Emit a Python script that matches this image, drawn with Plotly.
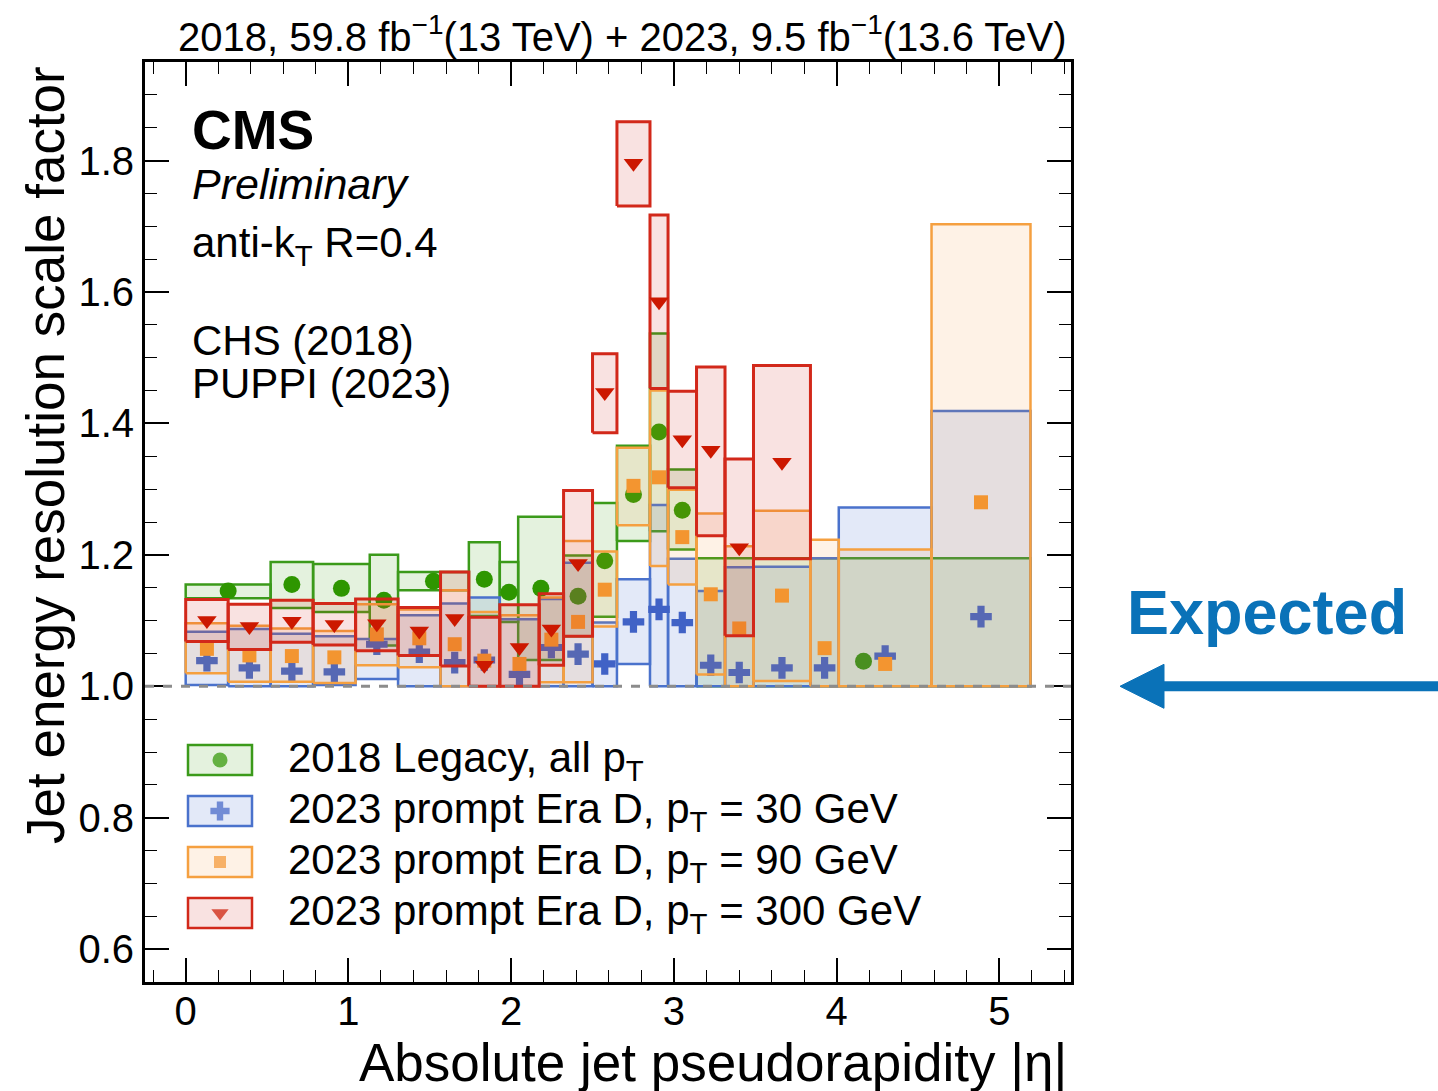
import plotly.graph_objects as go

# ---------------- data ----------------
# 2018 Legacy (CHS), all pT
chs18_edges = [0.0, 0.522, 0.783, 1.131, 1.305, 1.740, 1.930, 2.043, 2.322, 2.500,
               2.650, 2.853, 2.964, 3.139, 5.191]
chs18_sf = [1.145, 1.155, 1.149, 1.131, 1.160, 1.163, 1.143, 1.149, 1.137, 1.191,
            1.292, 1.387, 1.268, 1.038]
chs18_lo = [1.134, 1.119, 1.113, 1.062, 1.146, 1.107, 1.098, 1.040, 1.076, 1.106,
            1.221, 1.236, 1.208, 1.000]
chs18_hi = [1.155, 1.189, 1.186, 1.200, 1.174, 1.219, 1.189, 1.258, 1.199, 1.279,
            1.366, 1.537, 1.330, 1.195]

# 2023 prompt Era D (PUPPI) binning
puppi_edges = [0.0, 0.261, 0.522, 0.783, 1.044, 1.305, 1.566, 1.740, 1.930, 2.172,
               2.322, 2.500, 2.650, 2.853, 2.964, 3.139, 3.314, 3.489, 3.839, 4.013,
               4.583, 5.191]

# pT = 30 GeV
pt30_sf = [1.039, 1.028, 1.023, 1.022, 1.064, 1.052, 1.036, 1.040, 1.018, 1.059,
           1.049, 1.034, 1.098, 1.117, 1.097, 1.032, 1.021, 1.028, 1.028, 1.046, 1.106]
pt30_lo = [1.002, 1.000, 1.000, 1.002, 1.011, 1.000, 1.000, 1.000, 1.000, 1.000,
           1.000, 1.000, 1.034, 1.000, 1.000, 1.000, 1.000, 1.000, 1.000, 1.000, 1.000]
pt30_hi = [1.083, 1.087, 1.080, 1.076, 1.072, 1.108, 1.126, 1.135, 1.102, 1.133,
           1.188, 1.097, 1.163, 1.276, 1.194, 1.145, 1.181, 1.182, 1.195, 1.272, 1.419]

# pT = 90 GeV
pt90_sf = [1.057, 1.047, 1.046, 1.044, 1.079, 1.073, 1.064, 1.039, 1.034, 1.071,
           1.098, 1.147, 1.305, 1.318, 1.227, 1.140, 1.088, 1.138, 1.058, 1.034, 1.280]
pt90_lo = [1.020, 1.007, 1.007, 1.005, 1.032, 1.029, 1.000, 1.000, 1.000, 1.006,
           1.006, 1.091, 1.245, 1.183, 1.155, 1.018, 1.000, 1.008, 1.000, 1.000, 1.000]
pt90_hi = [1.096, 1.092, 1.088, 1.084, 1.125, 1.117, 1.146, 1.113, 1.108, 1.135,
           1.221, 1.205, 1.363, 1.450, 1.299, 1.263, 1.213, 1.267, 1.223, 1.208, 1.703]

# pT = 300 GeV (bins up to |eta| = 3.839)
pt300_sf = [1.100, 1.091, 1.099, 1.094, 1.095, 1.084, 1.103, 1.032, 1.059, 1.087,
            1.187, 1.447, 1.796, 1.585, 1.375, 1.359, 1.211, 1.341]
pt300_lo = [1.068, 1.056, 1.067, 1.063, 1.054, 1.047, 1.031, 1.000, 1.000, 1.032,
            1.076, 1.386, 1.731, 1.453, 1.302, 1.229, 1.077, 1.194]
pt300_hi = [1.132, 1.125, 1.131, 1.126, 1.133, 1.120, 1.174, 1.105, 1.124, 1.141,
            1.298, 1.506, 1.859, 1.717, 1.449, 1.486, 1.346, 1.488]

expected_sf = 1.0

legend_labels = [
    "2018 Legacy, all p<sub>T</sub>",
    "2023 prompt Era D, p<sub>T</sub> = 30 GeV",
    "2023 prompt Era D, p<sub>T</sub> = 90 GeV",
    "2023 prompt Era D, p<sub>T</sub> = 300 GeV",
]

# ---------------- styling ----------------
FONT = "Liberation Sans, Arial, Helvetica, sans-serif"
W, H = 1438, 1091
L, R, T, B = 145, 367, 62, 109
PW, PH = W - L - R, H - T - B
X_RANGE = [-0.25, 5.44]
Y_RANGE = [0.55, 1.95]

series = [
    dict(edges=chs18_edges, sf=chs18_sf, lo=chs18_lo, hi=chs18_hi,
         line="#3b9a1a", fill="rgba(43,154,0,0.13)", mcol="#2e9600",
         symbol="circle", size=17, lw=2.5),
    dict(edges=puppi_edges, sf=pt30_sf, lo=pt30_lo, hi=pt30_hi,
         line="#4a72cc", fill="rgba(70,110,210,0.15)", mcol="#4062c6",
         symbol="cross", size=18, lw=2.5),
    dict(edges=puppi_edges, sf=pt90_sf, lo=pt90_lo, hi=pt90_hi,
         line="#f5a040", fill="rgba(245,150,50,0.12)", mcol="#f39530",
         symbol="square", size=14, lw=2.5),
    dict(edges=puppi_edges, sf=pt300_sf, lo=pt300_lo, hi=pt300_hi,
         line="#d2281a", fill="rgba(210,30,20,0.13)", mcol="#cc1800",
         symbol="triangle-down", size=17, lw=3),
]


def px_x(p):
    return (p - L) / PW


def px_y(p):
    return (T + PH - p) / PH


def box_outline(edges, lo, hi):
    xs, ys = [], []
    for i in range(len(lo)):
        x0, x1 = edges[i], edges[i + 1]
        xs += [x0, x1, x1, x0, x0, None]
        ys += [lo[i], lo[i], hi[i], hi[i], lo[i], None]
    return xs, ys


fig = go.Figure()

for s in series:
    xs, ys = box_outline(s["edges"], s["lo"], s["hi"])
    fig.add_trace(go.Scatter(
        x=xs, y=ys, mode="lines", fill="toself", fillcolor=s["fill"],
        line=dict(color=s["line"], width=s["lw"]), hoverinfo="skip",
        showlegend=False,
    ))
    centers = [(s["edges"][i] + s["edges"][i + 1]) / 2 for i in range(len(s["sf"]))]
    fig.add_trace(go.Scatter(
        x=centers, y=s["sf"], mode="markers",
        marker=dict(symbol=s["symbol"], size=s["size"], color=s["mcol"], line=dict(width=0)),
        showlegend=False,
    ))

# legend: boxes as shapes, markers on an overlay axis spanning the plot area
shapes = []
leg_x0, leg_x1 = 188, 252
leg_rows = [760, 811, 862, 913]
for s, yc in zip(series, leg_rows):
    shapes.append(dict(type="rect", xref="paper", yref="paper",
                       x0=px_x(leg_x0), x1=px_x(leg_x1),
                       y0=px_y(yc + 15), y1=px_y(yc - 15),
                       fillcolor=s["fill"], line=dict(color=s["line"], width=2.5),
                       layer="below"))
fig.add_trace(go.Scatter(
    x=[px_x((leg_x0 + leg_x1) / 2)] * 4, y=[px_y(yc) for yc in leg_rows],
    mode="markers", xaxis="x2", yaxis="y2", cliponaxis=False,
    marker=dict(symbol=[s["symbol"] for s in series],
                size=[s["size"] - 2 for s in series],
                color=[s["mcol"] for s in series], line=dict(width=0)),
    showlegend=False, hoverinfo="skip",
))

# expected scale factor reference line
shapes.append(dict(type="line", xref="x", yref="y", x0=X_RANGE[0], x1=X_RANGE[1],
                   y0=expected_sf, y1=expected_sf, layer="above",
                   line=dict(color="#8c8c8c", width=3, dash="dash")))

# arrow pointing at the expected value
y_exp_paper = (expected_sf - Y_RANGE[0]) / (Y_RANGE[1] - Y_RANGE[0])
ARROW = "#0a72b8"
shapes.append(dict(type="line", xref="paper", yref="paper",
                   x0=px_x(1150), x1=px_x(1440), y0=y_exp_paper, y1=y_exp_paper,
                   line=dict(color=ARROW, width=10)))
shapes.append(dict(type="path", xref="paper", yref="paper",
                   xsizemode="pixel", ysizemode="pixel",
                   xanchor=px_x(1120), yanchor=y_exp_paper,
                   path="M0,0 L44,22 L44,-22 Z",
                   fillcolor=ARROW, line=dict(color=ARROW, width=1)))

annotations = []


def text(x, y, s, size, xanchor="left", color="black", **kw):
    annotations.append(dict(x=x, y=y, xref="paper", yref="paper", text=s,
                            showarrow=False, xanchor=xanchor, yanchor="middle",
                            font=dict(family=FONT, size=size, color=color), **kw))


text(px_x(1069), px_y(34),
     "2018, 59.8 fb<sup>−1</sup>(13 TeV) + 2023, 9.5 fb<sup>−1</sup>(13.6 TeV)",
     40, xanchor="right")
text(px_x(190), px_y(130), "<b>CMS</b>", 55)
text(px_x(190), px_y(184), "<i>Preliminary</i>", 43)
text(px_x(190), px_y(246), "anti-k<sub>T</sub> R=0.4", 42)
text(px_x(190), px_y(340), "CHS (2018)", 42)
text(px_x(190), px_y(383), "PUPPI (2023)", 42)
for lab, yc in zip(legend_labels, leg_rows):
    text(px_x(286), px_y(yc), lab, 42)
text(px_x(1125), px_y(612), "<b>Expected</b>", 63, color=ARROW)
text(px_x(1069), px_y(1062), "Absolute jet pseudorapidity |η|", 53, xanchor="right")
annotations.append(dict(x=px_x(45), y=px_y(64), xref="paper", yref="paper",
                        text="Jet energy resolution scale factor", textangle=-90,
                        showarrow=False, xanchor="center", yanchor="top",
                        font=dict(family=FONT, size=53, color="black")))

axis_common = dict(showline=True, linewidth=3, linecolor="black", mirror="allticks",
                   ticks="inside", ticklen=24, tickwidth=1.5, tickcolor="black",
                   showgrid=False, zeroline=False,
                   tickfont=dict(family=FONT, size=40, color="black"))

fig.update_layout(
    width=W, height=H,
    margin=dict(l=L, r=R, t=T, b=B, pad=0),
    paper_bgcolor="white", plot_bgcolor="white",
    showlegend=False,
    xaxis=dict(range=X_RANGE, tick0=0, dtick=1, ticklabelstandoff=-8,
               minor=dict(ticks="inside", ticklen=12, tickwidth=1.2, tickcolor="black",
                          tick0=0, dtick=0.2),
               **axis_common),
    yaxis=dict(range=Y_RANGE, tick0=0, dtick=0.2, tickformat=".1f",
               minor=dict(ticks="inside", ticklen=12, tickwidth=1.2, tickcolor="black",
                          tick0=0, dtick=0.05),
               **axis_common),
    xaxis2=dict(domain=[0, 1], range=[0, 1], overlaying="x", anchor="y2", visible=False),
    yaxis2=dict(domain=[0, 1], range=[0, 1], overlaying="y", anchor="x2", visible=False),
    shapes=shapes,
    annotations=annotations,
)

fig.write_html("out.html")
